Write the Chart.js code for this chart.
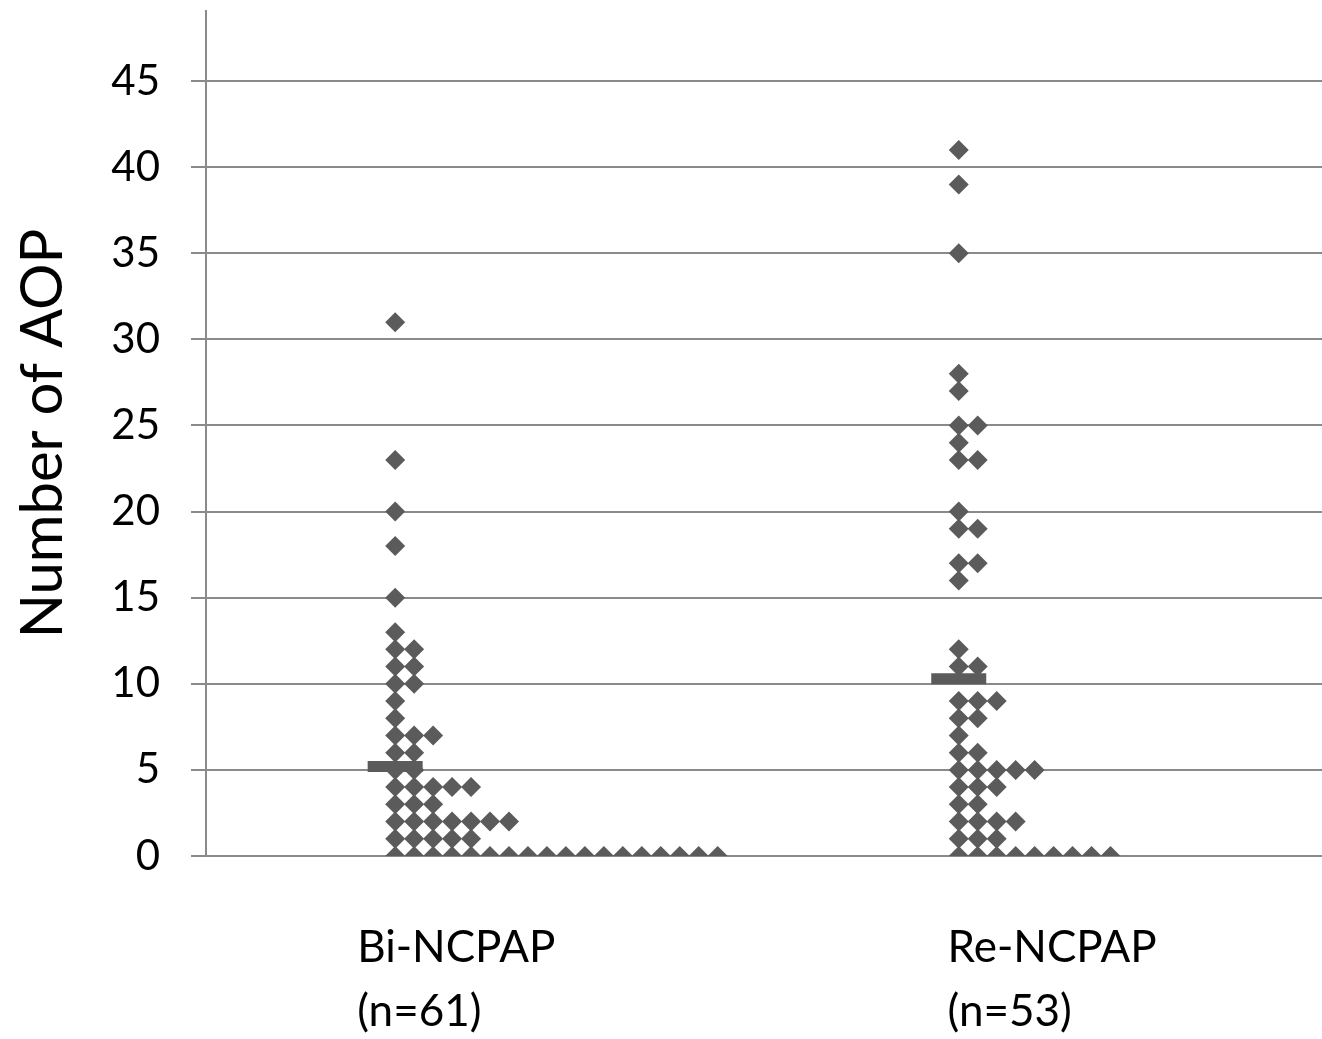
<!DOCTYPE html>
<html>
<head>
<meta charset="utf-8">
<script src="https://cdn.jsdelivr.net/npm/chart.js@4.4.1/dist/chart.umd.min.js"></script>
<style>
  html, body { margin: 0; padding: 0; background: #ffffff; }
  #wrap { width: 1322px; height: 1039px; }
</style>
</head>
<body>
<div id="wrap"><canvas id="aopChart" width="1322" height="1039"></canvas></div>
<script>
// Number of AOP per infant, as counts of infants at each value
const groupLabels = [["Bi-NCPAP", "(n=61)"], ["Re-NCPAP", "(n=53)"]];

const biValues = [0, 1, 2, 3, 4, 5, 6, 7, 8, 9, 10, 11, 12, 13, 15, 18, 20, 23, 31];
const biCounts = [18, 5, 7, 3, 5, 2, 2, 3, 1, 1, 2, 2, 2, 1, 1, 1, 1, 1, 1];

const reValues = [0, 1, 2, 3, 4, 5, 6, 7, 8, 9, 11, 12, 16, 17, 19, 20, 23, 24, 25, 27, 28, 35, 39, 41];
const reCounts = [9, 3, 4, 2, 3, 5, 2, 1, 2, 3, 2, 1, 1, 2, 2, 1, 2, 1, 2, 1, 1, 1, 1, 1];

// group mean (horizontal dash)
const groupMeans = [5.2, 10.3];

const yTicks = [0, 5, 10, 15, 20, 25, 30, 35, 40, 45];

// x positions (category units) where the dot columns and labels start
const groupStart = [-0.161, 0.849];
const columnStep = 0.034;
const labelX = [-0.229, 0.829];

const markColor = "#5b5b5b";
const gridColor = "#8a8a8a";
const fontName = "Lato, 'Open Sans', sans-serif";

function dotPoints(values, counts, start) {
  const pts = [];
  values.forEach((v, i) => {
    for (let k = 0; k < counts[i]; k++) {
      pts.push({ x: start + k * columnStep, y: v });
    }
  });
  return pts;
}

const ctx = document.getElementById("aopChart").getContext("2d");

new Chart(ctx, {
  type: "scatter",
  data: {
    datasets: [
      {
        label: "Mean",
        data: groupMeans.map((m, i) => ({ x: groupStart[i], y: m })),
        pointStyle: "line",
        pointRadius: 27.5,
        pointBorderWidth: 11,
        borderColor: markColor,
        backgroundColor: markColor,
      },
      {
        label: "Bi-NCPAP",
        data: dotPoints(biValues, biCounts, groupStart[0]),
        pointStyle: "rectRot",
        pointRadius: 10,
        pointBorderWidth: 0,
        backgroundColor: markColor,
        borderColor: markColor,
      },
      {
        label: "Re-NCPAP",
        data: dotPoints(reValues, reCounts, groupStart[1]),
        pointStyle: "rectRot",
        pointRadius: 10,
        pointBorderWidth: 0,
        backgroundColor: markColor,
        borderColor: markColor,
      },
    ],
  },
  options: {
    responsive: false,
    animation: false,
    events: [],
    layout: { autoPadding: false, padding: { top: 11, left: 0, right: 0, bottom: 0 } },
    plugins: {
      legend: { display: false },
      tooltip: { enabled: false },
    },
    scales: {
      x: {
        type: "linear",
        min: -0.5,
        max: 1.5,
        grid: { display: false, drawTicks: false, tickLength: 0 },
        border: { display: false },
        afterBuildTicks: (scale) => {
          scale.ticks = labelX.map((v) => ({ value: v }));
        },
        afterFit: (scale) => {
          scale.height = 183;
          scale.paddingLeft = 0;
          scale.paddingRight = 0;
        },
        ticks: {
          autoSkip: false,
          maxRotation: 0,
          align: "start",
          padding: 60,
          color: "#000000",
          font: { family: fontName, size: 44, lineHeight: 1.45 },
          callback: (value, index) => groupLabels[index],
        },
      },
      y: {
        min: 0,
        max: 49.07,
        grid: {
          color: gridColor,
          lineWidth: 2,
          tickLength: 15,
          tickColor: gridColor,
        },
        border: { display: true, color: gridColor, width: 2 },
        afterBuildTicks: (scale) => {
          scale.ticks = yTicks.map((v) => ({ value: v }));
        },
        afterFit: (scale) => {
          scale.width = 206;
          scale.paddingTop = 0;
          scale.paddingBottom = 0;
        },
        ticks: {
          padding: 31,
          color: "#000000",
          font: { family: fontName, size: 42 },
        },
        title: {
          display: true,
          text: "Number of AOP",
          color: "#000000",
          font: { family: fontName, size: 58 },
          padding: { top: 8, bottom: 0 },
        },
      },
    },
  },
});
</script>
</body>
</html>
